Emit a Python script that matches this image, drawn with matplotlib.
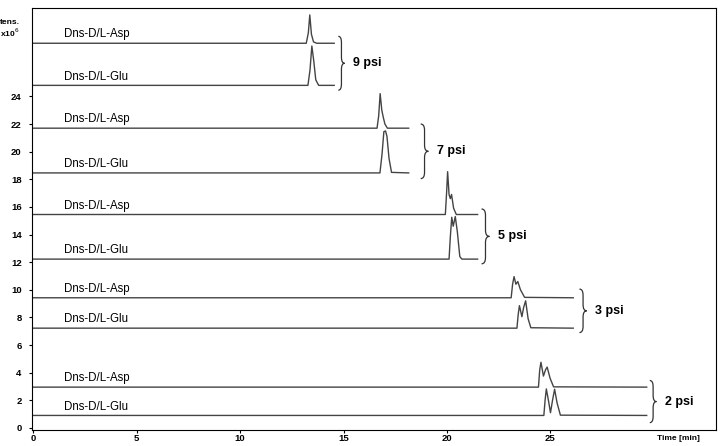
import matplotlib.pyplot as plt
from matplotlib.path import Path
from matplotlib.patches import PathPatch

plt.rcParams['font.family'] = ['Liberation Sans', 'DejaVu Sans']

# chromatogram traces (time in min, intensity x10^6)
t_9_asp = [0, 13.2, 13.3, 13.37, 13.45, 13.55, 13.7, 14.55]
i_9_asp = [27.85, 27.85, 28.6, 29.9, 28.5, 27.95, 27.85, 27.85]
t_9_glu = [0, 13.28, 13.38, 13.47, 13.56, 13.66, 13.8, 14.55]
i_9_glu = [24.8, 24.8, 25.9, 27.65, 26.6, 25.2, 24.8, 24.8]

t_7_asp = [0, 16.62, 16.7, 16.77, 16.85, 16.92, 17.0, 17.12, 18.15]
i_7_asp = [21.7, 21.7, 22.6, 24.2, 23.0, 22.5, 22.0, 21.7, 21.7]
t_7_glu = [0, 16.76, 16.86, 16.95, 17.03, 17.1, 17.2, 17.32, 18.15]
i_7_glu = [18.46, 18.46, 19.8, 21.45, 21.5, 21.1, 19.5, 18.5, 18.46]

t_5_asp = [0, 19.92, 19.98, 20.03, 20.1, 20.16, 20.22, 20.32, 20.45, 21.48]
i_5_asp = [15.45, 15.45, 17.0, 18.55, 16.9, 16.6, 16.9, 15.9, 15.45, 15.45]
t_5_glu = [0, 20.1, 20.16, 20.23, 20.3, 20.4, 20.5, 20.62, 20.72, 21.48]
i_5_glu = [12.22, 12.22, 13.8, 15.25, 14.6, 15.3, 14.2, 12.4, 12.22, 12.22]

t_3_asp = [0, 23.1, 23.17, 23.24, 23.33, 23.42, 23.55, 23.75, 26.1]
i_3_asp = [9.42, 9.42, 10.4, 10.95, 10.4, 10.6, 10.0, 9.45, 9.42]
t_3_glu = [0, 23.38, 23.44, 23.5, 23.62, 23.7, 23.8, 23.92, 24.05, 26.1]
i_3_glu = [7.22, 7.22, 8.2, 8.85, 8.05, 8.7, 9.2, 7.9, 7.25, 7.22]

t_2_asp = [0, 24.42, 24.48, 24.54, 24.66, 24.76, 24.84, 24.98, 25.15, 29.65]
i_2_asp = [2.95, 2.95, 4.2, 4.75, 3.75, 4.2, 4.4, 3.6, 2.97, 2.95]
t_2_glu = [0, 24.68, 24.74, 24.8, 24.9, 25.0, 25.1, 25.2, 25.32, 25.48, 29.65]
i_2_glu = [0.9, 0.9, 2.0, 2.82, 2.0, 1.1, 2.0, 2.8, 1.8, 0.92, 0.9]

traces = [
    (t_9_asp, i_9_asp, 'Dns-D/L-Asp'), (t_9_glu, i_9_glu, 'Dns-D/L-Glu'),
    (t_7_asp, i_7_asp, 'Dns-D/L-Asp'), (t_7_glu, i_7_glu, 'Dns-D/L-Glu'),
    (t_5_asp, i_5_asp, 'Dns-D/L-Asp'), (t_5_glu, i_5_glu, 'Dns-D/L-Glu'),
    (t_3_asp, i_3_asp, 'Dns-D/L-Asp'), (t_3_glu, i_3_glu, 'Dns-D/L-Glu'),
    (t_2_asp, i_2_asp, 'Dns-D/L-Asp'), (t_2_glu, i_2_glu, 'Dns-D/L-Glu'),
]

# pressure groups: label, brace x (ends), brace x (tip), top, bottom
pressures = ['9 psi', '7 psi', '5 psi', '3 psi', '2 psi']
brace_x = [14.75, 18.73, 21.67, 26.4, 29.8]
brace_tip = [15.05, 19.1, 22.05, 26.75, 30.12]
brace_top = [28.35, 22.0, 15.85, 10.05, 3.43]
brace_bot = [24.45, 18.05, 11.88, 6.9, 0.38]

x_ticks = [0, 5, 10, 15, 20, 25]
y_ticks = [0, 2, 4, 6, 8, 10, 12, 14, 16, 18, 20, 22, 24]


def draw_brace(ax, x0, x1, top, bot, r=0.45):
    xm = (x0 + x1) / 2
    mid = (top + bot) / 2
    verts = [(x0, top), (xm, top), (xm, top - r),
             (xm, mid + r), (xm, mid), (x1, mid),
             (xm, mid), (xm, mid - r),
             (xm, bot + r), (xm, bot), (x0, bot)]
    codes = [Path.MOVETO, Path.CURVE3, Path.CURVE3,
             Path.LINETO, Path.CURVE3, Path.CURVE3,
             Path.CURVE3, Path.CURVE3,
             Path.LINETO, Path.CURVE3, Path.CURVE3]
    ax.add_patch(PathPatch(Path(verts, codes), fill=False, lw=0.9,
                           edgecolor='#333333'))


fig = plt.figure(figsize=(7.2, 4.46), dpi=100)
ax = fig.add_axes([0.0445, 0.036, 0.95, 0.946])

for t, i, name in traces:
    ax.plot(t, i, color='#444444', lw=1.0)
    ax.text(1.5, i[0] + 0.2, name, fontsize=8.3, va='bottom', ha='left')

for k, p in enumerate(pressures):
    draw_brace(ax, brace_x[k], brace_tip[k], brace_top[k], brace_bot[k])
    ax.text(brace_tip[k] + 0.4, (brace_top[k] + brace_bot[k]) / 2, p,
            fontsize=9, fontweight='bold', va='center', ha='left')

ax.set_xlim(-0.05, 33.0)
ax.set_ylim(-0.15, 30.4)
ax.set_xticks(x_ticks)
ax.set_yticks(y_ticks)
ax.tick_params(direction='out', length=2.5, width=0.8, labelsize=6.8)
ax.tick_params(axis='x', pad=0.6)
ax.tick_params(axis='y', pad=5)
for lab in ax.get_xticklabels() + ax.get_yticklabels():
    lab.set_fontweight('bold')
for s in ax.spines.values():
    s.set_linewidth(0.8)

ax.text(31.2, -0.75, 'Time [min]', fontsize=6, fontweight='bold',
        ha='center', va='center')
fig.text(0.0, 1 - 22 / 446, 'tens.', fontsize=6, fontweight='bold',
         ha='left', va='center')
fig.text(0.0, 1 - 33 / 446, 'x10$^6$', fontsize=6, fontweight='bold',
         ha='left', va='center')

plt.savefig('out.png', dpi=100)
